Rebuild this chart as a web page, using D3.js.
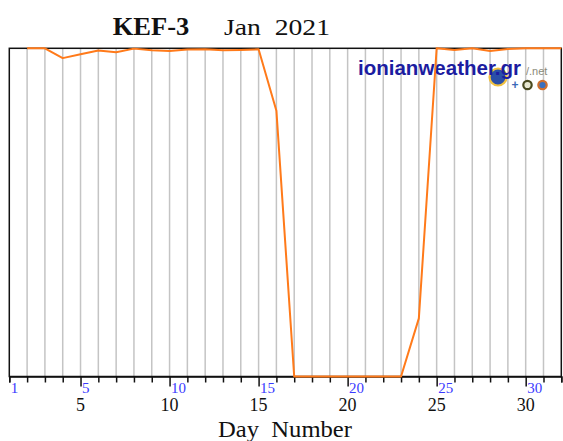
<!DOCTYPE html>
<html><head><meta charset="utf-8">
<script src="https://cdn.jsdelivr.net/npm/d3@7"></script>
<style>body{margin:0;background:#fff}svg{display:block}</style>
</head><body>
<script>
const days = [2,3,4,5,6,7,8,9,10,11,12,13,14,15,16,17,18,19,20,21,22,23,24,25,26,27,28,29,30,31,32];
const values = [100,100,97.0,98.2,99.3,98.8,99.9,99.4,99.2,99.6,99.7,99.4,99.5,99.7,81.0,0,0,0,0,0,0,0,17.7,100,99.5,100,99.2,99.8,100,100,100];
const blackTicks = [5,10,15,20,25,30];
const blueTicks = [1,5,10,15,20,25,30];
const titleStation = "KEF-3";
const titleDate = "Jan  2021";
const xTitle = "Day  Number";

const W = 563, H = 441;
const svg = d3.select("body").append("svg").attr("width", W).attr("height", H);
const x = d3.scaleLinear().domain([1, 32]).range([9.3, 561.3]);
const y = d3.scaleLinear().domain([0, 100]).range([376.5, 48.3]);
const serif = "Liberation Serif, Times New Roman, serif";

// grid lines
svg.append("g").selectAll("line").data(d3.range(2, 32)).join("line")
  .attr("x1", d => x(d)).attr("x2", d => x(d))
  .attr("y1", y(100)).attr("y2", y(0))
  .attr("stroke", "#c4c4c4").attr("stroke-width", 1.5);

// border
svg.append("rect").attr("x", x(1)).attr("y", y(100))
  .attr("width", x(32) - x(1)).attr("height", y(0) - y(100))
  .attr("fill", "none").attr("stroke", "#111").attr("stroke-width", 1.5);

// axis
const ax = d3.axisBottom(x).tickValues(d3.range(1, 33)).tickFormat("").tickSizeOuter(0)
  .tickSize(6);
const gAx = svg.append("g").attr("transform", `translate(0,${y(0)})`).call(ax);
gAx.select(".domain").attr("stroke", "#111").attr("stroke-width", 1.5);
gAx.selectAll(".tick line").attr("stroke", "#111").attr("stroke-width", 1.5)
  .attr("y2", d => blackTicks.includes(d) ? 10 : 6);

// blue labels
svg.append("g").selectAll("text").data(blueTicks).join("text")
  .attr("x", d => x(d) + 1.5).attr("y", 393)
  .attr("font-family", serif)
  .attr("font-size", 15).attr("fill", "#3a3aff").text(d => d);

// black labels
svg.append("g").selectAll("text").data(blackTicks).join("text")
  .attr("x", d => x(d)).attr("y", 411).attr("text-anchor", "middle")
  .attr("font-family", serif)
  .attr("font-size", 18).attr("fill", "#111").text(d => d);

// x title
svg.append("text").attr("x", 218).attr("y", 437)
  .attr("font-family", serif)
  .attr("font-size", 23).attr("fill", "#111").style("white-space", "pre")
  .attr("textLength", 134).attr("lengthAdjust", "spacingAndGlyphs")
  .text(xTitle);

// title
svg.append("text").attr("x", 112.7).attr("y", 34.5)
  .attr("font-family", serif)
  .attr("font-size", 25).attr("font-weight", "bold").attr("fill", "#111")
  .attr("textLength", 76.6).attr("lengthAdjust", "spacingAndGlyphs").text(titleStation);
svg.append("text").attr("x", 224).attr("y", 34.5)
  .attr("font-family", serif).style("white-space", "pre")
  .attr("font-size", 24).attr("fill", "#111")
  .attr("textLength", 106).attr("lengthAdjust", "spacingAndGlyphs").text(titleDate);

// watermark
const wm = svg.append("g");
wm.append("circle").attr("cx", 498).attr("cy", 77).attr("r", 8.5)
  .attr("fill", "#2a4fa8").attr("stroke", "#f0c040").attr("stroke-width", 2.2);
wm.append("text").attr("x", 358).attr("y", 75)
  .attr("font-family", "Liberation Sans, Arial, sans-serif").attr("font-weight", "bold")
  .attr("font-size", 20).attr("fill", "#1c1ca0")
  .attr("textLength", 163).attr("lengthAdjust", "spacingAndGlyphs").text("ionianweather.gr");
wm.append("text").attr("x", 526).attr("y", 75)
  .attr("font-family", "Liberation Sans, Arial, sans-serif")
  .attr("font-size", 11).attr("fill", "#8a8a7a").text("/.net");
wm.append("text").attr("x", 515).attr("y", 89).attr("text-anchor", "middle")
  .attr("font-family", "Liberation Sans, Arial, sans-serif").attr("font-weight", "bold")
  .attr("font-size", 12).attr("fill", "#3a6ab8").text("+");
wm.append("circle").attr("cx", 527.5).attr("cy", 85).attr("r", 4.2)
  .attr("fill", "#e8e8d0").attr("stroke", "#4a4a20").attr("stroke-width", 2.2);
wm.append("circle").attr("cx", 542.5).attr("cy", 85).attr("r", 4.2)
  .attr("fill", "#3a70c0").attr("stroke", "#d07030").attr("stroke-width", 2.2);

// data line
const pts = days.map((d, i) => [d, values[i]]);
svg.append("path").datum(pts)
  .attr("d", d3.line().x(d => x(d[0])).y(d => y(d[1])))
  .attr("fill", "none").attr("stroke", "#ff7a1a").attr("stroke-width", 2)
  .attr("stroke-linejoin", "round");
</script>
</body></html>
